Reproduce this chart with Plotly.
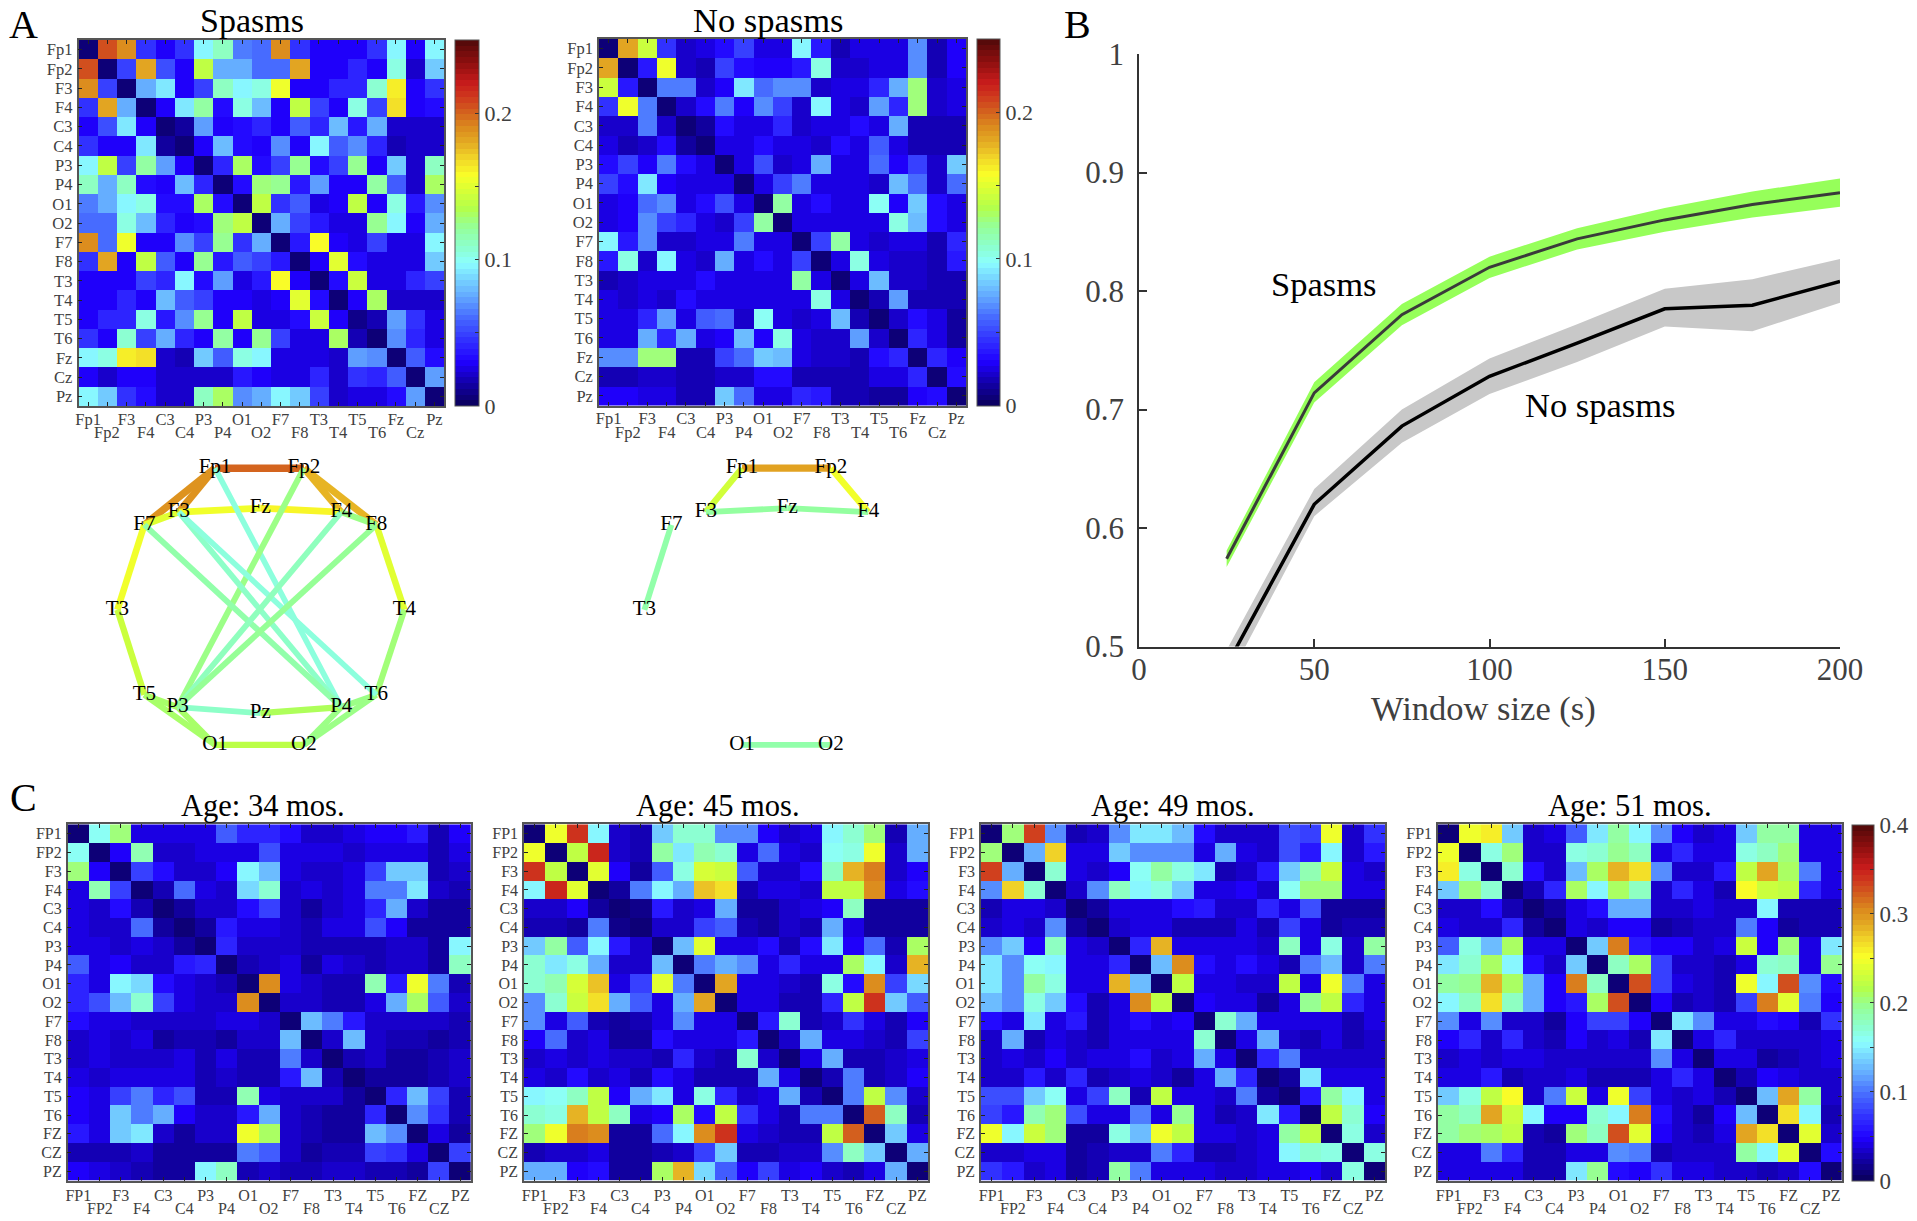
import numpy as np
import plotly.graph_objects as go

W, H = 1917, 1221
SERIF = "Liberation Serif"
INK = "#404040"

# ---------- labels ----------
LABELS_A = ["Fp1","Fp2","F3","F4","C3","C4","P3","P4","O1","O2","F7","F8","T3","T4","T5","T6","Fz","Cz","Pz"]
LABELS_C = [s.upper() for s in LABELS_A]

# ---------- connectivity matrices: upper triangles, in percent of the colour-bar maximum ----------
SPASMS = [
[2,82,76,18,12,18,39,44,25,24,76,18,12,12,12,18,39,11,39],
[2,20,72,21,12,55,30,30,24,24,72,11,11,17,11,42,9,33],
[2,30,36,12,20,44,38,42,61,12,12,17,17,43,65,11,18],
[2,12,36,47,14,41,32,12,55,20,11,42,20,67,11,13],
[3,6,29,12,14,17,12,23,17,32,15,30,9,8,8],
[2,11,32,14,12,27,11,38,23,28,16,7,9,9],
[3,16,53,13,20,49,14,20,49,11,33,8,45],
[2,13,50,49,15,29,11,11,47,22,9,53],
[2,55,18,22,10,11,55,11,42,15,27],
[2,31,19,15,10,10,49,38,12,31],
[2,15,63,11,10,19,10,10,39],
[3,11,60,13,10,10,10,34],
[3,13,57,10,10,16,20],
[3,11,52,9,9,9],
[4,7,29,18,10],
[3,28,16,10],
[3,22,13],
[3,29],
[3]]
NO_SPASMS = [
[2,73,57,18,8,10,14,20,10,10,38,15,7,10,10,10,28,7,11],
[2,15,62,8,7,20,14,11,11,15,42,8,8,10,10,28,7,11],
[2,25,26,8,11,36,24,28,28,8,10,10,17,31,50,9,10],
[2,8,13,26,11,27,20,8,38,10,8,29,16,50,9,10],
[3,6,13,10,10,16,8,10,10,14,10,30,7,7,7],
[2,10,10,13,10,10,8,13,10,22,10,7,7,7],
[3,10,21,8,10,31,10,10,24,11,19,8,33],
[3,10,20,26,10,10,10,8,32,24,8,24],
[3,48,10,14,10,10,40,11,34,13,10],
[3,10,10,10,10,10,41,32,13,10],
[3,19,48,10,8,10,10,7,16],
[3,10,41,10,9,9,7,15],
[3,10,32,8,8,7,7],
[3,7,29,7,7,7],
[3,8,13,10,6],
[3,17,10,6],
[3,17,11],
[3,13],
[3]]
AGE_34 = [
[3,40,50,10,10,10,10,22,16,16,14,9,8,10,12,11,15,7,11],
[3,11,46,8,8,10,10,10,21,10,10,10,9,10,10,10,7,10],
[3,20,13,9,8,12,38,32,10,8,8,10,19,34,34,7,8],
[3,7,24,10,9,35,43,8,10,9,10,26,26,37,8,7],
[3,6,9,8,13,20,8,6,8,10,17,30,8,5,6],
[3,6,15,10,10,8,7,10,10,21,11,5,6,6],
[3,16,8,8,8,7,7,7,7,8,8,6,39],
[3,7,9,10,6,10,8,7,8,9,5,45],
[3,76,10,8,7,7,46,15,62,26,7],
[3,9,8,7,7,10,30,53,22,8],
[3,32,25,15,8,8,8,8,7],
[3,9,32,8,7,7,6,7],
[3,7,8,5,6,7,8],
[3,6,6,5,7,9],
[3,17,32,19,7],
[3,28,18,7],
[3,10,6],
[3,19],
[3]]
AGE_45 = [
[3,61,85,39,8,7,33,43,43,28,28,11,8,10,39,43,51,7,30],
[3,55,86,8,7,47,37,46,43,10,24,10,9,40,42,62,9,30],
[3,60,11,5,22,41,58,57,22,8,8,13,44,71,78,9,12],
[3,5,25,39,30,70,66,7,10,10,8,55,55,76,10,13],
[3,4,15,9,10,30,6,5,8,10,12,44,5,5,5],
[3,8,8,20,23,7,6,9,7,30,10,5,5,6],
[3,32,60,10,10,14,7,14,36,12,24,7,52],
[3,26,31,27,10,17,10,10,52,38,9,71],
[3,72,10,10,8,7,42,13,75,20,35],
[3,10,10,7,7,17,55,85,34,22],
[3,15,43,7,9,18,10,7,12],
[3,8,31,10,10,8,7,19],
[3,10,31,7,7,8,10],
[3,7,26,7,9,12],
[3,26,55,28,9],
[3,80,45,7],
[3,33,10],
[3,31],
[3]]
AGE_49 = [
[3,50,84,28,7,9,28,36,36,32,13,9,8,8,21,19,61,8,18],
[3,31,68,10,10,33,28,28,28,10,30,10,8,21,15,39,8,15],
[3,43,10,8,12,40,47,42,36,7,8,15,33,46,57,10,9],
[3,9,28,44,39,41,33,10,10,12,8,40,51,51,10,10],
[3,5,10,10,10,13,15,9,9,16,10,21,6,6,6],
[3,8,10,10,7,7,7,10,7,20,10,6,7,7],
[3,16,71,10,10,10,10,9,44,10,41,8,48],
[3,32,75,13,10,13,10,7,26,32,8,26],
[3,56,10,10,9,8,55,10,62,26,10],
[3,12,10,10,6,10,49,56,16,10],
[3,43,31,10,10,10,10,7,10],
[3,10,31,9,7,10,7,9],
[3,16,25,9,9,8,9],
[3,5,36,10,10,10],
[3,15,48,39,10],
[3,55,43,12],
[3,42,9],
[3,42],
[3]]
AGE_51 = [
[3,62,65,33,9,10,22,37,47,38,27,11,8,10,33,47,47,10,10],
[3,41,51,8,9,41,43,49,44,10,16,10,10,41,44,51,10,10],
[3,43,13,8,32,53,71,66,28,9,8,15,55,72,53,25,10],
[3,7,16,53,38,53,44,9,17,10,7,63,57,55,17,10],
[3,5,10,14,30,30,8,8,10,9,9,38,7,7,7],
[3,10,8,12,11,5,7,8,9,25,11,6,7,7],
[3,34,77,15,12,12,9,10,57,11,51,10,36],
[3,44,52,19,9,9,7,10,43,45,10,49],
[3,82,20,10,9,7,62,38,82,28,13],
[3,11,7,8,7,20,77,60,25,11],
[3,37,27,10,10,13,11,7,18],
[3,10,17,9,9,8,9,10],
[3,10,10,6,7,8,10],
[3,7,12,10,8,8],
[3,32,72,47,8],
[3,66,38,7],
[3,60,8],
[3,13],
[3]]

# ---------- panel B ----------
WINDOW = [25,50,75,100,125,150,175,200]
SP_MEAN = [.574,.714,.780,.820,.844,.860,.873,.883]
SP_UP   = [.581,.723,.789,.829,.853,.870,.884,.895]
SP_LOW  = [.567,.706,.771,.811,.835,.850,.862,.871]
NS_MEAN = [.484,.620,.686,.728,.756,.785,.788,.808]
NS_UP   = [.497,.633,.700,.743,.772,.802,.810,.827]
NS_LOW  = [.470,.610,.672,.713,.740,.770,.766,.790]

# ---------- scalp graphs ----------
ELECTRODES = ["Fp1","Fp2","F7","F3","Fz","F4","F8","T3","T4","T5","P3","Pz","P4","T6","O1","O2"]
EL_X = [270,425,147,207,349,490,551,100,600,147,205,349,490,551,270,425]
EL_Y = [80,80,250,212,200,212,250,505,505,760,797,815,797,760,910,910]
EDGES_SP = [("Fp1","Fp2",80),("Fp1","F3",75),("Fp1","F7",75),("Fp2","F4",71),("Fp2","F8",71),("F7","F3",60),
            ("F3","Fz",62),("Fz","F4",64),("F4","F8",50),("F7","T3",62),("F8","T4",60),("T3","T5",57),("T4","T6",51),
            ("T5","P3",52),("T5","O1",52),("P3","O1",52),("O1","O2",55),("O2","P4",50),("O2","T6",50),("P4","T6",50),
            ("P3","Pz",44),("Pz","P4",53),("Fp1","P4",42),("Fp2","P3",50),("F3","P4",44),("F3","T6",42),("F7","P4",47),
            ("F4","P3",45),("F8","P3",49)]
EDGES_NS = [("Fp1","Fp2",73),("Fp1","F3",58),("Fp2","F4",62),("F3","Fz",48),("Fz","F4",48),("F7","T3",47),("O1","O2",47)]
SHOWN_NS = ["Fp1","Fp2","F3","Fz","F4","F7","T3","O1","O2"]

# ---------- colour map ----------
CM = [(0,(10,0,90)),(.06,(18,0,165)),(.12,(32,0,255)),(.18,(50,50,255)),(.24,(70,105,255)),(.30,(100,170,255)),
      (.36,(125,225,255)),(.39,(140,255,255)),(.43,(140,255,210)),(.49,(150,255,150)),(.54,(180,255,75)),
      (.60,(225,255,50)),(.63,(250,255,40)),(.68,(240,210,40)),(.72,(228,170,35)),(.76,(220,140,30)),
      (.80,(212,100,30)),(.84,(208,60,30)),(.88,(200,28,28)),(.94,(140,15,15)),(1,(80,10,10))]
def cmap(f):
    fs = [a for a, _ in CM]
    return "rgb(%d,%d,%d)" % tuple(np.interp(f, fs, [c[k] for _, c in CM]) for k in range(3))
COLORSCALE = []
for i in range(64):
    c = cmap((i + .5) / 64)
    COLORSCALE += [[i / 64, c], [(i + 1) / 64, c]]

def full(tri, zmax):
    m = np.zeros((19, 19))
    for i, row in enumerate(tri):
        for k, v in enumerate(row):
            m[i, i + k] = m[i + k, i] = v / 100 * zmax
    return m

def dx(a, b): return [a / W, b / W]
def dy(top, bottom): return [1 - bottom / H, 1 - top / H]
def xn(n): return "x" if n == 1 else f"x{n}"
def yn(n): return "y" if n == 1 else f"y{n}"

fig = go.Figure()
layout = {}
annots = []

def add_matrix(n, tri, zmax, labels, xpx, ypx, cbar=None, standoff=-3, second=26.5, size=16.5):
    xa, ya = f"xaxis{n}", f"yaxis{n}"
    trace = dict(z=full(tri, zmax), zmin=0, zmax=zmax, colorscale=COLORSCALE, xaxis=xn(n), yaxis=yn(n),
                 showscale=cbar is not None, xgap=0, ygap=0,
                 hovertemplate="%{z:.3f}<extra></extra>")
    if cbar:
        ticks = [round(k * .05, 2) for k in range(int(round(zmax / .05)) + 1)]
        text = [("%g" % t) if k % 2 == 0 else "" for k, t in enumerate(ticks)]
        trace["colorbar"] = dict(x=cbar[0] / W, xanchor="left", xpad=0, ypad=0, thickness=cbar[1] - cbar[0],
                                 thicknessmode="pixels", y=1 - (ypx[0] + ypx[1]) / 2 / H, yanchor="middle",
                                 len=(ypx[1] - ypx[0]) / H, lenmode="fraction", tickvals=ticks, ticktext=text,
                                 ticks="inside", ticklen=4, tickwidth=1, tickcolor="#333", outlinecolor="#555",
                                 outlinewidth=1, tickfont=dict(family=SERIF, size=cbar[2], color=INK))
    fig.add_trace(go.Heatmap(**trace))
    common = dict(tickvals=list(range(19)), ticks="inside", ticklen=4, tickwidth=1, tickcolor="#222",
                  mirror="ticks", showline=True, linecolor="#555", linewidth=1.5, showgrid=False, zeroline=False,
                  tickfont=dict(family=SERIF, size=size, color=INK))
    layout[xa] = dict(domain=dx(*xpx), range=[-.5, 18.5], anchor=yn(n), tickangle=0,
                      ticktext=[l if i % 2 == 0 else "" for i, l in enumerate(labels)],
                      ticklabelstandoff=standoff, **common)
    layout[ya] = dict(domain=dy(*ypx), range=[18.5, -.5], anchor=xn(n), ticktext=labels, ticklabelstandoff=1, **common)
    for i, l in enumerate(labels):
        if i % 2:
            annots.append(dict(text=l, x=i, xref=xn(n), y=0, yref=yn(n) + " domain", yanchor="middle", yshift=-second,
                               showarrow=False, font=dict(family=SERIF, size=size, color=INK)))

add_matrix(1, SPASMS, .25, LABELS_A, (78.5, 444), (40, 406), cbar=(455, 479, 22))
add_matrix(2, NO_SPASMS, .25, LABELS_A, (599, 966), (39, 405.5), cbar=(977, 1000, 22))
add_matrix(3, AGE_34, .4, LABELS_C, (67.7, 471), (824.3, 1180.7), standoff=-1, second=28, size=16)
add_matrix(4, AGE_45, .4, LABELS_C, (524, 928), (824.3, 1180.7), standoff=-1, second=28, size=16)
add_matrix(5, AGE_49, .4, LABELS_C, (981, 1385), (824.3, 1180.7), standoff=-1, second=28, size=16)
add_matrix(6, AGE_51, .4, LABELS_C, (1438, 1841.7), (824.3, 1180.7), cbar=(1851.7, 1874, 23), standoff=-1, second=28, size=16)

# scalp graphs
POS = {e: (x, y) for e, x, y in zip(ELECTRODES, EL_X, EL_Y)}
def add_graph(n, edges, shown, xpx):
    for a, b, s in edges:
        fig.add_trace(go.Scatter(x=[POS[a][0], POS[b][0]], y=[POS[a][1], POS[b][1]], mode="lines",
                                 line=dict(color=cmap(s / 100), width=3.5 + s / 100 * 5),
                                 xaxis=xn(n), yaxis=yn(n), showlegend=False, hoverinfo="skip"))
    fig.add_trace(go.Scatter(x=[POS[e][0] for e in shown], y=[POS[e][1] for e in shown], mode="text", text=shown,
                             textposition="middle center", textfont=dict(family=SERIF, size=21, color="black"),
                             xaxis=xn(n), yaxis=yn(n), showlegend=False, hoverinfo="skip"))
    hidden = dict(visible=False, showgrid=False, zeroline=False)
    layout[f"xaxis{n}"] = dict(domain=dx(*xpx), range=[0, 700], anchor=yn(n), **hidden)
    layout[f"yaxis{n}"] = dict(domain=dy(441.5, 774.8), range=[1000, 0], anchor=xn(n), **hidden)
add_graph(7, EDGES_SP, ELECTRODES, (60, 461.8))
add_graph(8, EDGES_NS, SHOWN_NS, (587, 988.8))

# panel B
def band(up, low, color):
    fig.add_trace(go.Scatter(x=WINDOW + WINDOW[::-1], y=up + low[::-1], fill="toself", fillcolor=color, mode="none",
                             xaxis="x9", yaxis="y9", showlegend=False, hoverinfo="skip"))
band(SP_UP, SP_LOW, "#96ff5a")
band(NS_UP, NS_LOW, "#c8c8c8")
fig.add_trace(go.Scatter(x=WINDOW, y=SP_MEAN, mode="lines", line=dict(color="#3a3a3a", width=3), xaxis="x9", yaxis="y9", showlegend=False))
fig.add_trace(go.Scatter(x=WINDOW, y=NS_MEAN, mode="lines", line=dict(color="black", width=3.5), xaxis="x9", yaxis="y9", showlegend=False))
axb = dict(showline=True, linecolor="#333", linewidth=1.5, showgrid=False, zeroline=False, ticks="inside", ticklen=8,
           tickwidth=1.5, tickcolor="#333", tickfont=dict(family=SERIF, size=31, color=INK))
layout["xaxis9"] = dict(domain=dx(1139, 1840), range=[0, 200], anchor="y9", tickvals=[0, 50, 100, 150, 200],
                        ticklabelstandoff=-5, **axb)
layout["yaxis9"] = dict(domain=dy(54, 646.5), range=[.5, 1], anchor="x9", tickvals=[.5, .6, .7, .8, .9, 1],
                        ticktext=["0.5", "0.6", "0.7", "0.8", "0.9", "1"], ticklabelstandoff=7, **axb)
for t, x, y in [("Spasms", 52.5, .806), ("No spasms", 131.5, .7037)]:
    annots.append(dict(text=t, x=x, y=y, xref="x9", yref="y9", showarrow=False, font=dict(family=SERIF, size=34.5, color="black")))

# titles
def paper_text(t, x, y, size, anchor="center", color="black"):
    annots.append(dict(text=t, x=x / W, y=1 - y / H, xref="paper", yref="paper", xanchor=anchor, yanchor="middle",
                       showarrow=False, font=dict(family=SERIF, size=size, color=color)))
paper_text("Window size (s)", 1483, 708, 34.5, color=INK)
paper_text("A", 7, 24, 40, "left")
paper_text("B", 1062, 24, 40, "left")
paper_text("C", 8, 797, 40, "left")
paper_text("Spasms", 252, 20, 34)
paper_text("No spasms", 768, 20, 34.5)
for t, x in [("Age: 34 mos.", 262.7), ("Age: 45 mos.", 717.7), ("Age: 49 mos.", 1173), ("Age: 51 mos.", 1630)]:
    paper_text(t, x, 806, 30.5)

fig.update_layout(width=W, height=H, margin=dict(l=0, r=0, t=0, b=0, autoexpand=False), paper_bgcolor="white", plot_bgcolor="white",
                  showlegend=False, annotations=annots, **layout)
fig.write_html("out.html", config=dict(displayModeBar=False),
               post_script="document.body.style.margin='0';document.body.style.overflow='hidden';")
